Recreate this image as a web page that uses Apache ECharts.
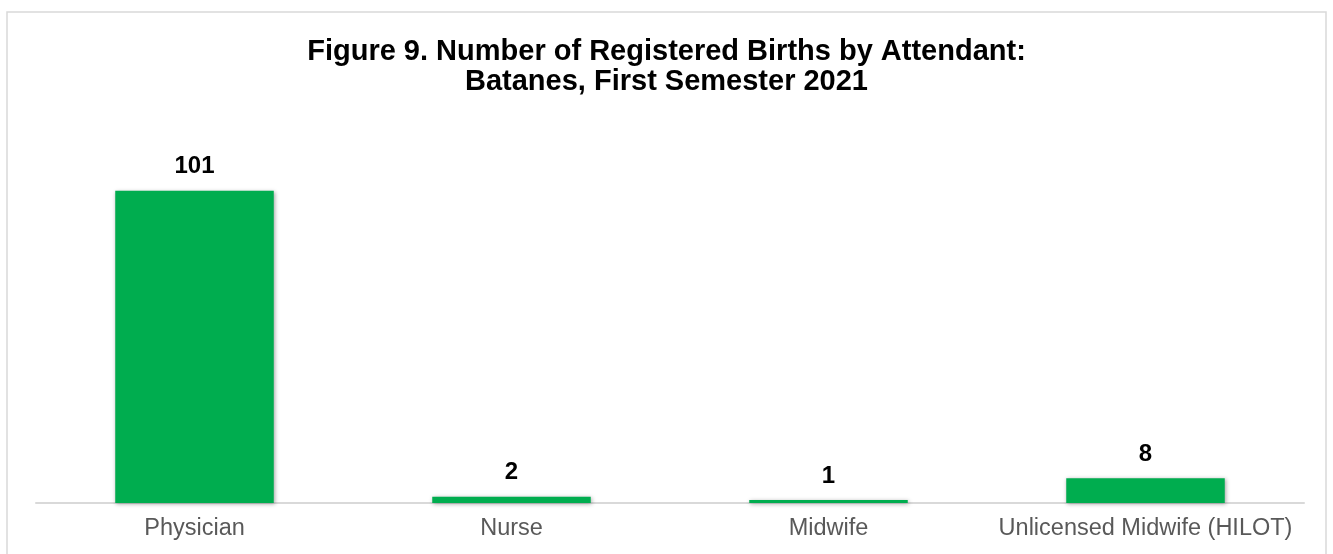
<!DOCTYPE html>
<html>
<head>
<meta charset="utf-8">
<script src="https://cdn.jsdelivr.net/npm/echarts@6/dist/echarts.min.js"></script>
<style>html,body{margin:0;padding:0;background:#fff;}#c{width:1333px;height:554px;}</style>
</head>
<body>
<div id="c"></div>
<script>
const categories = ['Physician', 'Nurse', 'Midwife', 'Unlicensed Midwife (HILOT)'];
const births = [101, 2, 1, 8];
const titleLines = ['Figure 9. Number of Registered Births by Attendant:', 'Batanes, First Semester 2021'];

const chart = echarts.init(document.getElementById('c'));
chart.setOption({
  animation: false,
  graphic: [{
    type: 'rect',
    shape: { x: 7, y: 12, width: 1319, height: 600 },
    style: { fill: 'none', stroke: '#d9d9d9', lineWidth: 1.5 }
  }],
  title: {
    text: titleLines.join('\n'),
    left: 'center', top: 32,
    textStyle: { fontFamily: 'Liberation Sans, Arial', fontWeight: 'bold', fontSize: 29, lineHeight: 30, color: '#000' }
  },
  grid: { left: 36, right: 29, top: 163, bottom: 51 },
  xAxis: {
    type: 'category', data: categories,
    axisLine: { lineStyle: { color: '#d9d9d9', width: 2 } },
    axisTick: { show: false },
    axisLabel: { interval: 0, margin: 14, fontFamily: 'Liberation Sans, Arial', fontSize: 23.5, color: '#595959' }
  },
  yAxis: { type: 'value', min: 0, max: 110, show: false, splitLine: { show: false } },
  series: [{
    type: 'bar', data: births, barWidth: '50%',
    itemStyle: { color: '#00AD4F', shadowBlur: 4, shadowColor: 'rgba(0,0,0,0.35)', shadowOffsetX: 1, shadowOffsetY: 1 },
    label: { show: true, position: 'top', distance: 12, fontFamily: 'Liberation Sans, Arial', fontWeight: 'bold', fontSize: 24, color: '#000' }
  }]
});
</script>
</body>
</html>
